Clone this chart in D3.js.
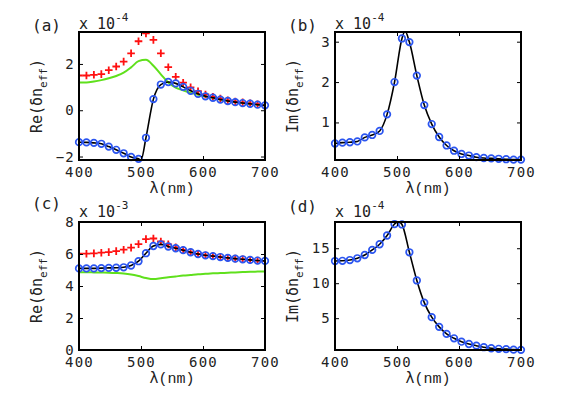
<!DOCTYPE html>
<html>
<head>
<meta charset="utf-8">
<script src="https://cdnjs.cloudflare.com/ajax/libs/d3/7.8.5/d3.min.js"></script>
<style>
  body { margin: 0; background: #fff; }
  svg text { font-family: "DejaVu Sans Mono", monospace; fill: #222; }
</style>
</head>
<body>
<div id="chart"></div>
<script>
// wavelength samples (nm)
const lambda = [400, 412, 424, 436, 448, 460, 472, 484, 496, 508, 520, 532, 544,
  556, 568, 580, 592, 604, 616, 628, 640, 652, 664, 676, 688, 700];

// (a) Re(dn_eff) x 1e-4
const reA_circles = [-1.38, -1.39, -1.41, -1.45, -1.57, -1.71, -1.86, -2.02, -2.1, -1.19,
  0.48, 1.11, 1.22, 1.16, 1.01, 0.84, 0.71, 0.6, 0.54, 0.46, 0.4, 0.35, 0.31, 0.28, 0.24, 0.21];
const reA_plus = [1.5, 1.5, 1.53, 1.56, 1.73, 1.89, 2.1, 2.46, 2.98, 3.32,
  3.04, 2.46, 1.86, 1.44, 1.19, 0.99, 0.82, 0.68, 0.58, 0.51, 0.43, 0.38, 0.34, 0.3, 0.26, 0.21];
const reA_green = [1.2, 1.2, 1.24, 1.3, 1.38, 1.48, 1.62, 1.85, 2.12, 2.18,
  1.92, 1.55, 1.2, 0.98, 0.86, 0.75, 0.67, 0.59, 0.53, 0.46, 0.4, 0.35, 0.31, 0.28, 0.24, 0.21];
const reA_dip = [[500, -2.15]];

// (b) Im(dn_eff) x 1e-4
const imB_circles = [0.48, 0.5, 0.51, 0.53, 0.63, 0.69, 0.79, 1.2, 2.0, 3.08,
  2.99, 2.16, 1.43, 0.96, 0.64, 0.43, 0.3, 0.22, 0.18, 0.14, 0.12, 0.11, 0.1, 0.09, 0.08, 0.08];
const imB_peak = [[513, 3.26]];

// (c) Re(dn_eff) x 1e-3
const reC_circles = [5.1, 5.1, 5.1, 5.12, 5.13, 5.14, 5.17, 5.28, 5.55, 6.05,
  6.5, 6.6, 6.47, 6.36, 6.24, 6.11, 6.0, 5.92, 5.87, 5.81, 5.76, 5.71, 5.67, 5.63, 5.59, 5.57];
const reC_plus = [6.02, 6.02, 6.04, 6.08, 6.12, 6.18, 6.27, 6.4, 6.62, 6.93,
  6.97, 6.78, 6.6, 6.42, 6.26, 6.11, 6.0, 5.92, 5.87, 5.81, 5.76, 5.71, 5.67, 5.63, 5.59, 5.57];
const reC_green = [4.86, 4.86, 4.85, 4.84, 4.83, 4.81, 4.78, 4.72, 4.62, 4.5,
  4.43, 4.48, 4.55, 4.6, 4.65, 4.69, 4.73, 4.76, 4.79, 4.81, 4.83, 4.85, 4.87, 4.89, 4.9, 4.91];

// (d) Im(dn_eff) x 1e-4
const imD_circles = [13.17, 13.2, 13.31, 13.56, 14.03, 14.76, 15.57, 16.82, 18.46, 18.4,
  14.42, 10.39, 7.22, 5.15, 3.76, 2.75, 2.12, 1.64, 1.31, 1.07, 0.85, 0.7, 0.62, 0.57, 0.5, 0.47];
const imD_peak = [[502, 18.8]];

const xTicks = [400, 500, 600, 700];

const panels = [
  { id: "a", left: 79, top: 32, yDomain: [-2.15, 3.38], yTicks: [-2, 0, 2], exp: "-4",
    part: "Re", circles: reA_circles, plus: reA_plus, green: reA_green, extra: reA_dip,
    tagY: 31, expY: 29 },
  { id: "b", left: 335, top: 32, yDomain: [0.07, 3.24], yTicks: [1, 2, 3], exp: "-4",
    part: "Im", circles: imB_circles, extra: imB_peak, tagY: 31, expY: 29 },
  { id: "c", left: 79, top: 222, yDomain: [0, 8], yTicks: [0, 2, 4, 6, 8], exp: "-3",
    part: "Re", circles: reC_circles, plus: reC_plus, green: reC_green, tagY: 209, expY: 217 },
  { id: "d", left: 335, top: 222, yDomain: [0.45, 18.75], yTicks: [5, 10, 15], exp: "-4",
    part: "Im", circles: imD_circles, extra: imD_peak, tagY: 212, expY: 217 }
];

const W = 186, H = 128;

const svg = d3.select("#chart").append("svg")
  .attr("width", 581).attr("height", 397);

panels.forEach((p) => {
  const g = svg.append("g").attr("transform", `translate(${p.left},${p.top})`);
  const x = d3.scaleLinear().domain([400, 700]).range([0, W]);
  const y = d3.scaleLinear().domain(p.yDomain).range([H, 0]);

  g.append("clipPath").attr("id", "clip-" + p.id)
    .append("rect").attr("width", W).attr("height", H);

  const plot = g.append("g").attr("clip-path", `url(#clip-${p.id})`);

  // green curve
  if (p.green) {
    plot.append("path")
      .datum(lambda.map((l, i) => [l, p.green[i]]))
      .attr("fill", "none").attr("stroke", "#5fe01c").attr("stroke-width", 2)
      .attr("d", d3.line().x((d) => x(d[0])).y((d) => y(d[1])).curve(d3.curveMonotoneX));
  }

  // red plus markers
  if (p.plus) {
    plot.append("g").selectAll("path")
      .data(lambda.map((l, i) => [l, p.plus[i]]))
      .enter().append("path")
      .attr("d", (d) => `M${x(d[0]) - 3.8},${y(d[1])}h7.6M${x(d[0])},${y(d[1]) - 3.8}v7.6`)
      .attr("stroke", "#ff1010").attr("stroke-width", 1.8).attr("fill", "none");
  }

  // black line through the circles
  const lineData = lambda.map((l, i) => [l, p.circles[i]])
    .concat(p.extra || []).sort((a, b) => a[0] - b[0]);
  plot.append("path")
    .datum(lineData)
    .attr("fill", "none").attr("stroke", "#000").attr("stroke-width", 1.6)
    .attr("d", d3.line().x((d) => x(d[0])).y((d) => y(d[1])).curve(d3.curveMonotoneX));

  // blue circle markers (not clipped)
  g.append("g").selectAll("circle")
    .data(lambda.map((l, i) => [l, p.circles[i]]))
    .enter().append("circle")
    .attr("cx", (d) => x(d[0])).attr("cy", (d) => y(d[1])).attr("r", 3.3)
    .attr("fill", "none").attr("stroke", "#2b55f0").attr("stroke-width", 1.7);

  // axes with inward ticks on all four sides
  const styleAxis = (sel) => {
    sel.select(".domain").remove();
    sel.selectAll("line").attr("stroke", "#000");
    sel.selectAll("text").attr("font-size", 14).attr("fill", "#222")
      .attr("letter-spacing", 1.2);
  };
  g.append("g").attr("transform", `translate(0,${H})`)
    .call(d3.axisBottom(x).tickValues(xTicks).tickSize(-4).tickPadding(7))
    .call(styleAxis);
  g.append("g")
    .call(d3.axisTop(x).tickValues(xTicks).tickSize(-4).tickFormat(""))
    .call(styleAxis);
  g.append("g")
    .call(d3.axisLeft(y).tickValues(p.yTicks).tickSize(-4).tickPadding(4)
      .tickFormat((d) => (d < 0 ? "\u2212" + Math.abs(d) : d)))
    .call(styleAxis);
  g.append("g").attr("transform", `translate(${W},0)`)
    .call(d3.axisRight(y).tickValues(p.yTicks).tickSize(-4).tickFormat(""))
    .call(styleAxis);

  g.append("rect").attr("width", W).attr("height", H)
    .attr("fill", "none").attr("stroke", "#000").attr("stroke-width", 2);

  // panel tag
  svg.append("text").attr("x", p.left - 47).attr("y", p.tagY)
    .attr("font-size", 16).text(`(${p.id})`);

  // exponent
  const ex = svg.append("text").attr("x", p.left).attr("y", p.expY).attr("font-size", 15);
  ex.append("tspan").text("x 10");
  ex.append("tspan").attr("dy", -8).attr("font-size", 11).text(p.exp);

  // x label
  const xl = svg.append("text").attr("x", p.left + W / 2).attr("y", p.top + H + 33)
    .attr("text-anchor", "middle").attr("font-size", 15);
  xl.append("tspan").attr("font-family", "DejaVu Sans").text("\u03bb");
  xl.append("tspan").attr("font-family", "Liberation Mono").text("(nm)");

  // y label
  const yl = svg.append("text")
    .attr("transform", `translate(${p.left - 37},${p.top + H / 2}) rotate(-90)`)
    .attr("text-anchor", "middle").attr("font-size", 15)
    .attr("font-family", "Liberation Mono");
  yl.append("tspan").text(p.part + "(\u03b4n");
  yl.append("tspan").attr("dy", 5).attr("font-size", 11).text("eff");
  yl.append("tspan").attr("dy", -5).text(")");
});
</script>
</body>
</html>
